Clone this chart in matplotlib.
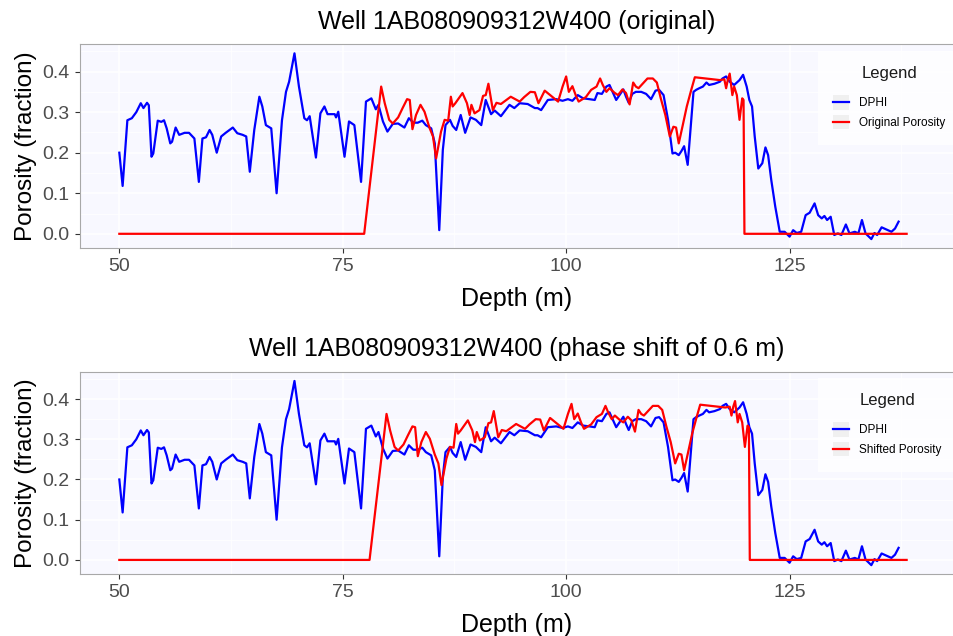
import numpy as np
import matplotlib
matplotlib.use("Agg")
import matplotlib.pyplot as plt
from matplotlib.legend_handler import HandlerLine2D
from matplotlib.patches import Rectangle
from matplotlib.ticker import MultipleLocator

plt.rcParams['font.family'] = ['Liberation Sans', 'DejaVu Sans']

well_name = "1AB080909312W400"
shift = 0.6

# DPHI log (depth in m, porosity fraction)
dphi_depth = [50.0, 50.37, 50.9, 51.4, 51.9, 52.4, 52.7, 53.1, 53.3, 53.6, 53.8, 54.3, 54.7, 55.0,
              55.3, 55.7, 55.9, 56.3, 56.7, 57.3, 57.8, 58.4, 58.9, 59.3, 59.7, 60.1, 60.4, 60.9,
              61.4, 61.9, 62.7, 63.2, 63.8, 64.2, 64.6, 65.1, 65.67, 66.0, 66.4, 67.0, 67.6, 68.2,
              68.65, 69.0, 69.6, 70.1, 70.7, 71.0, 71.3, 72.0, 72.5, 72.95, 73.3, 74.1, 74.25, 74.5,
              75.2, 75.7, 76.3, 77.05, 77.6, 78.2, 78.7, 79.0, 79.5, 80.0, 80.6, 81.2, 81.9, 82.4,
              82.9, 83.4, 83.9, 84.3, 84.9, 85.3, 85.8, 86.2, 86.5, 87.0, 87.3, 87.7, 88.2, 88.7,
              89.3, 89.9, 90.5, 91.0, 91.6, 92.0, 92.7, 93.66, 94.2, 94.8, 95.7, 96.5, 96.8, 97.2,
              97.95, 98.9, 99.6, 100.2, 100.7, 101.3, 101.9, 102.6, 103.2, 103.5, 104.0, 104.5,
              104.85, 105.2, 105.6, 105.97, 106.4, 106.7, 107.0, 107.4, 107.8, 108.4, 108.95, 109.5,
              110.0, 110.4, 110.9, 111.4, 111.9, 112.2, 112.6, 112.9, 113.2, 113.6, 114.0, 114.25,
              114.55, 114.9, 115.3, 115.7, 116.0, 116.6, 117.2, 117.5, 117.9, 118.3, 118.8, 119.4,
              119.8, 120.2, 120.5, 120.8, 121.1, 121.5, 121.95, 122.3, 122.6, 122.95, 123.4, 123.9,
              124.45, 125.0, 125.4, 125.8, 126.3, 126.8, 127.25, 127.8, 128.2, 128.6, 128.9, 129.2,
              129.6, 130.0, 130.4, 130.8, 131.3, 131.7, 132.3, 132.7, 133.1, 133.5, 134.15, 134.5,
              134.8, 135.3, 135.8, 136.4, 136.8, 137.2]
dphi = [0.20, 0.118, 0.28, 0.285, 0.30, 0.322, 0.31, 0.323, 0.317, 0.19, 0.198, 0.279, 0.276, 0.28,
        0.26, 0.223, 0.227, 0.262, 0.244, 0.249, 0.249, 0.235, 0.128, 0.235, 0.238, 0.256, 0.244, 0.20,
        0.24, 0.249, 0.262, 0.248, 0.244, 0.24, 0.153, 0.256, 0.338, 0.314, 0.268, 0.26, 0.10, 0.28,
        0.35, 0.375, 0.445, 0.363, 0.285, 0.280, 0.29, 0.188, 0.297, 0.314, 0.295, 0.295, 0.287, 0.301,
        0.19, 0.277, 0.268, 0.128, 0.326, 0.334, 0.307, 0.318, 0.277, 0.252, 0.271, 0.272, 0.262, 0.285,
        0.274, 0.274, 0.279, 0.268, 0.26, 0.223, 0.009, 0.207, 0.268, 0.281, 0.266, 0.256, 0.293, 0.249,
        0.287, 0.281, 0.268, 0.33, 0.295, 0.304, 0.29, 0.318, 0.31, 0.322, 0.32, 0.31, 0.31, 0.305,
        0.33, 0.332, 0.328, 0.332, 0.328, 0.342, 0.334, 0.332, 0.33, 0.347, 0.345, 0.363,
        0.367, 0.35, 0.33, 0.342, 0.356, 0.338, 0.323, 0.345, 0.35, 0.35, 0.345, 0.332,
        0.353, 0.355, 0.342, 0.281, 0.198, 0.20, 0.194, 0.204, 0.216, 0.17, 0.281, 0.35,
        0.355, 0.359, 0.363, 0.373, 0.367, 0.37, 0.375, 0.383, 0.388, 0.375, 0.367, 0.379,
        0.392, 0.363, 0.33, 0.314, 0.24, 0.161, 0.174, 0.213, 0.194, 0.133, 0.067, 0.005,
        0.005, -0.007, 0.009, 0.002, 0.005, 0.046, 0.052, 0.075, 0.046, 0.038, 0.044, 0.034,
        0.042, -0.003, 0.001, -0.003, 0.023, 0.001, 0.005, 0.001, 0.034, 0.001, -0.013, 0.002,
        -0.003, 0.016, 0.011, 0.005, 0.013, 0.03]

# original core porosity
por_depth = [50.0, 77.4, 79.3, 79.7, 80.2, 80.6, 81.2, 81.7, 82.2, 82.5, 82.8, 83.2, 83.7, 84.15,
             84.7, 85.1, 85.45, 86.0, 86.4, 86.8, 87.1, 87.3, 87.6, 88.4, 88.9, 89.2, 89.4, 89.75,
             90.3, 90.7, 91.0, 91.3, 91.8, 92.2, 92.7, 93.8, 94.8, 95.3, 96.0, 96.5, 96.9, 97.6,
             98.1, 99.1, 99.6, 100.0, 100.3, 100.7, 101.1, 101.4, 102.2, 102.8, 103.4, 103.8,
             104.1, 104.5, 104.85, 105.4, 105.8, 106.3, 106.7, 107.1, 107.5, 107.8, 108.1, 108.6,
             109.1, 109.7, 110.15, 110.6, 111.1, 111.6, 112.0, 112.3, 112.6, 113.05, 113.5, 114.0,
             114.4, 116.0, 117.2, 117.7, 117.9, 118.1, 118.3, 118.6, 118.8, 119.1, 119.4, 119.7,
             119.85, 119.95, 138.1]
por = [0.0, 0.0, 0.363, 0.322, 0.281, 0.272, 0.287, 0.31, 0.332, 0.33, 0.258, 0.293, 0.318, 0.301,
       0.262, 0.24, 0.186, 0.252, 0.281, 0.279, 0.338, 0.314, 0.322, 0.347, 0.322, 0.293, 0.318, 0.297,
       0.305, 0.34, 0.342, 0.37, 0.305, 0.323, 0.32, 0.338, 0.326, 0.337, 0.35, 0.349, 0.322, 0.353,
       0.344, 0.326, 0.363, 0.388, 0.35, 0.364, 0.34, 0.326, 0.337, 0.355, 0.363, 0.383,
       0.367, 0.35, 0.359, 0.348, 0.342, 0.356, 0.347, 0.319, 0.373, 0.363, 0.359, 0.371,
       0.383, 0.383, 0.373, 0.333, 0.293, 0.24, 0.264, 0.262, 0.223, 0.268, 0.314, 0.355,
       0.386, 0.382, 0.379, 0.381, 0.359, 0.381, 0.395, 0.342, 0.363, 0.342, 0.281, 0.334,
       0.33, 0.0, 0.0]

# shifted porosity: move down by the phase shift, keep the original depth range
por_depth_shifted = np.clip(np.array(por_depth) + shift, por_depth[0], por_depth[-1])
por_depth_shifted[0] = por_depth[0]


class KeyHandler(HandlerLine2D):
    # ggplot-style key: grey square behind the line
    def create_artists(self, legend, orig_handle, xdescent, ydescent, width, height, fontsize, trans):
        bg = Rectangle((-xdescent, -ydescent), width, height, facecolor='#F0F0F0',
                       edgecolor='none', transform=trans)
        y = -ydescent + height / 2
        line = plt.Line2D([-xdescent, -xdescent + width], [y, y], color=orig_handle.get_color(),
                          lw=orig_handle.get_linewidth(), transform=trans)
        return [bg, line]


def style_panel(ax):
    ax.set_facecolor('#F8F8FF')
    ax.set_xlim(45.6, 143.4)
    ax.set_ylim(-0.035, 0.468)
    ax.xaxis.set_major_locator(MultipleLocator(25))
    ax.xaxis.set_minor_locator(MultipleLocator(12.5))
    ax.yaxis.set_minor_locator(MultipleLocator(0.05))
    ax.set_yticks([0, 0.1, 0.2, 0.3, 0.4])
    ax.set_yticklabels(['0.0', '0.1', '0.2', '0.3', '0.4'])
    ax.grid(which='major', color='white', lw=1.1)
    ax.grid(which='minor', color='white', lw=0.55)
    ax.set_axisbelow(True)
    ax.tick_params(which='major', length=3.5, width=0.8, color='#333333', labelcolor='#4D4D4D',
                   labelsize=14, pad=4)
    ax.tick_params(which='minor', length=0)
    for s in ax.spines.values():
        s.set_color('#A8A8A8')
        s.set_linewidth(0.8)
    ax.set_xlabel('Depth (m)', fontsize=18, labelpad=8)
    ax.set_ylabel('Porosity (fraction)', fontsize=17.5, labelpad=4)


W, H = 954, 636
fig = plt.figure(figsize=(W / 100, H / 100), dpi=100)
ax1 = fig.add_axes([80 / W, 1 - 248 / H, 874 / W, 204 / H])
ax2 = fig.add_axes([80 / W, 1 - 574 / H, 874 / W, 202.3 / H])

panels = [
    (ax1, por_depth, 'Original Porosity', 'original', 51),
    (ax2, por_depth_shifted, 'Shifted Porosity', f'phase shift of {shift} m', 378),
]
for ax, red_depth, red_label, subtitle, legend_top in panels:
    style_panel(ax)
    ax.plot(dphi_depth, dphi, color='#0000FF', lw=1.6, label='DPHI')
    ax.plot(red_depth, por, color='#FF0000', lw=1.6, label=red_label)
    ax.set_title(f'Well {well_name} ({subtitle})', fontsize=18, pad=11)
    leg = ax.legend(loc='upper left', bbox_to_anchor=(818 / W, 1 - legend_top / H),
                    bbox_transform=fig.transFigure, title='Legend', fontsize=8.5,
                    title_fontsize=12, frameon=True, fancybox=False, borderaxespad=0,
                    handlelength=1.3, handleheight=1.5, handletextpad=0.9, labelspacing=0.45,
                    borderpad=1.3, handler_map={plt.Line2D: KeyHandler()})
    leg._legend_box.sep = 10
    leg.get_frame().set_facecolor('white')
    leg.get_frame().set_edgecolor('none')
    leg.get_title().set_color('#1A1A1A')

fig.savefig('out.png', dpi=100)
